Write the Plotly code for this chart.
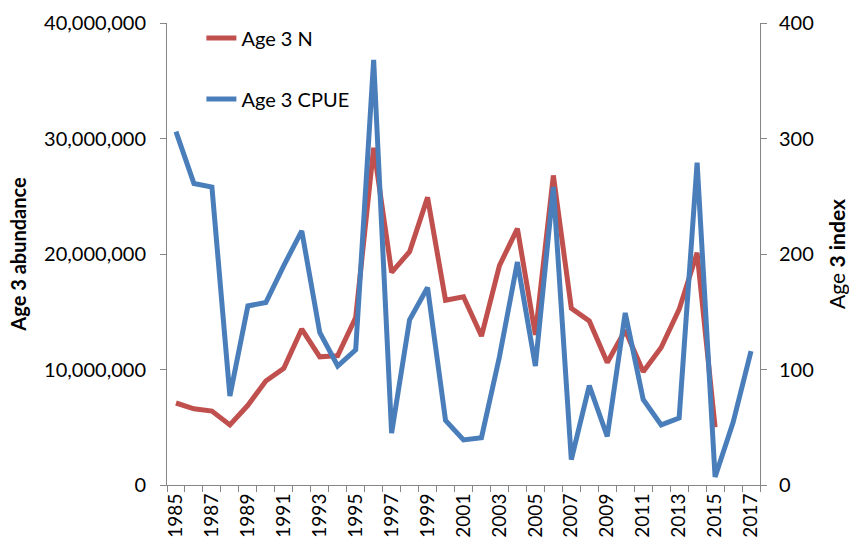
import plotly.graph_objects as go

# Survey years
years_n = list(range(1985, 2016))
years_cpue = list(range(1985, 2018))

# Age 3 abundance (numbers of fish)
age3_n = [7.1e6, 6.6e6, 6.4e6, 5.2e6, 6.9e6, 9.0e6, 10.1e6, 13.5e6, 11.1e6, 11.2e6,
          14.5e6, 29.2e6, 18.4e6, 20.2e6, 24.9e6, 16.0e6, 16.3e6, 12.9e6, 19.0e6, 22.2e6,
          13.0e6, 26.8e6, 15.3e6, 14.2e6, 10.6e6, 13.4e6, 9.8e6, 11.9e6, 15.2e6, 20.1e6,
          5.0e6]

# Age 3 CPUE index
age3_cpue = [306, 261, 258, 77, 155, 158, 190, 220, 132, 103,
             117, 368, 45, 143, 171, 56, 39, 41, 111, 193,
             103, 258, 22, 86, 42, 149, 74, 52, 58, 279,
             7, 54, 116]

left_ticks = [0, 10e6, 20e6, 30e6, 40e6]
left_labels = ["0", "10,000,000", "20,000,000", "30,000,000", "40,000,000"]
x_labels = list(range(1985, 2018, 2))

RED = "#C0504D"
BLUE = "#4A7EBB"
AXIS = "#868686"
FONT = "Lato, 'Open Sans', sans-serif"

fig = go.Figure()
fig.add_trace(go.Scatter(x=years_n, y=age3_n, name="Age 3 N", mode="lines",
                         line=dict(color=RED, width=5), legendgroup="a"))
fig.add_trace(go.Scatter(x=years_cpue, y=age3_cpue, name="Age 3 CPUE", mode="lines",
                         line=dict(color=BLUE, width=5), yaxis="y2", legendgroup="b"))

fig.update_layout(
    width=849, height=550,
    margin=dict(l=167, r=89, t=23, b=65),
    paper_bgcolor="white", plot_bgcolor="white",
    font=dict(family=FONT, size=20, color="black"),
    showlegend=True,
    legend=dict(x=0.058, y=1.01, xanchor="left", yanchor="top",
                bgcolor="rgba(0,0,0,0)", font=dict(size=20),
                itemwidth=30, tracegroupgap=32),
    xaxis=dict(
        range=[1984.5, 2017.5], tickmode="array", tickvals=x_labels,
        ticktext=[str(v) for v in x_labels], tickangle=-90,
        ticks="", showgrid=False, zeroline=False, automargin=False,
        showline=True, linecolor=AXIS, linewidth=1,
        tickfont=dict(size=19),
        minor=dict(ticks="outside", tick0=1984.5, dtick=1, ticklen=6,
                   tickcolor=AXIS, showgrid=False),
    ),
    yaxis=dict(
        range=[0, 40e6], tickmode="array", tickvals=left_ticks, ticktext=left_labels,
        ticks="outside", ticklen=6, tickcolor=AXIS, ticklabelstandoff=10,
        showgrid=False, zeroline=False, showline=True, linecolor=AXIS, linewidth=1,
        tickfont=dict(size=20), automargin=False,
        title=dict(text="<b>Age 3 abundance</b>", font=dict(size=20), standoff=12),
    ),
    yaxis2=dict(
        range=[0, 400], overlaying="y", side="right", tickvals=[0, 100, 200, 300, 400],
        ticks="outside", ticklen=6, tickcolor=AXIS, ticklabelstandoff=8,
        showgrid=False, zeroline=False, showline=True, linecolor=AXIS, linewidth=1,
        tickfont=dict(size=20), automargin=False,
        title=dict(text="Age <b>3 index</b>", font=dict(size=21), standoff=22),
    ),
)

fig.write_html("out.html")
